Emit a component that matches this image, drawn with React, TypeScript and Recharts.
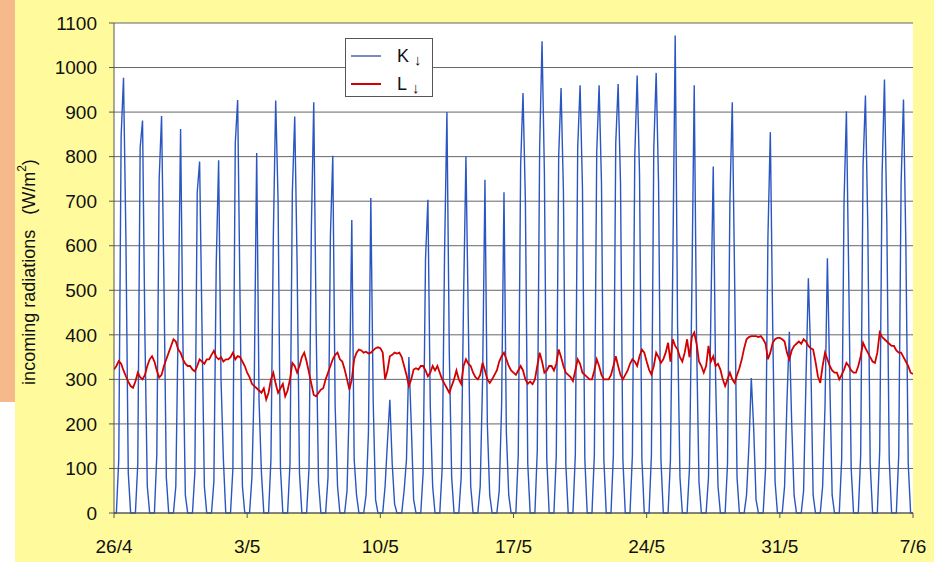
import React from "react";
import {
  LineChart,
  Line,
  XAxis,
  YAxis,
  CartesianGrid,
  Legend,
} from "recharts";

// day labels on the x axis (one tick per week)
const dateLabels = ["26/4", "3/5", "10/5", "17/5", "24/5", "31/5", "7/6"];
const dayTicks = [0, 7, 14, 21, 28, 35, 42];
const radTicks = [0, 100, 200, 300, 400, 500, 600, 700, 800, 900, 1000, 1100];

// K↓ shortwave, 3-hourly (00,03,...,21h) for each day from 26/4
const kDays = [
  [0, 0, 120, 845, 977, 620, 90, 0],
  [0, 0, 110, 820, 881, 400, 60, 0],
  [0, 0, 130, 750, 891, 520, 80, 0],
  [0, 0, 60, 430, 862, 380, 40, 0],
  [0, 0, 90, 720, 789, 420, 60, 0],
  [0, 0, 70, 560, 792, 300, 120, 0],
  [0, 0, 100, 830, 927, 480, 60, 0],
  [0, 0, 80, 300, 808, 250, 90, 0],
  [0, 0, 120, 620, 926, 700, 100, 0],
  [0, 0, 110, 720, 890, 560, 90, 0],
  [0, 0, 100, 640, 922, 420, 70, 0],
  [0, 0, 80, 620, 802, 240, 60, 0],
  [0, 0, 50, 260, 658, 120, 40, 0],
  [0, 0, 40, 180, 707, 250, 30, 0],
  [0, 0, 60, 160, 254, 110, 20, 0],
  [0, 0, 50, 120, 350, 200, 30, 0],
  [0, 0, 90, 570, 703, 240, 60, 0],
  [0, 0, 100, 580, 900, 360, 80, 0],
  [0, 0, 80, 480, 800, 430, 60, 0],
  [0, 0, 60, 300, 748, 200, 40, 0],
  [0, 0, 50, 240, 720, 180, 40, 0],
  [0, 0, 130, 780, 943, 700, 110, 0],
  [0, 0, 140, 820, 1059, 760, 120, 0],
  [0, 0, 130, 800, 954, 720, 110, 0],
  [0, 0, 130, 820, 960, 730, 120, 0],
  [0, 0, 130, 810, 960, 740, 120, 0],
  [0, 0, 130, 830, 963, 740, 120, 0],
  [0, 0, 130, 800, 982, 760, 120, 0],
  [0, 0, 130, 820, 988, 740, 120, 0],
  [0, 0, 120, 560, 1072, 420, 80, 0],
  [0, 0, 100, 500, 960, 380, 70, 0],
  [0, 0, 80, 450, 778, 300, 60, 0],
  [0, 0, 110, 700, 922, 520, 80, 0],
  [0, 0, 40, 150, 303, 190, 30, 0],
  [0, 0, 100, 620, 855, 420, 70, 0],
  [0, 0, 60, 250, 407, 200, 40, 0],
  [0, 0, 50, 300, 527, 350, 40, 0],
  [0, 0, 60, 240, 572, 300, 40, 0],
  [0, 0, 120, 700, 902, 520, 100, 0],
  [0, 0, 130, 780, 937, 640, 110, 0],
  [0, 0, 140, 760, 973, 650, 120, 0],
  [0, 0, 130, 740, 928, 600, 110, 0],
];

// L↓ longwave, same 3-hourly steps
const lDays = [
  [322, 330, 341, 335, 320, 307, 295, 285],
  [281, 295, 315, 305, 300, 310, 330, 345],
  [352, 340, 320, 304, 310, 330, 345, 360],
  [375, 390, 385, 367, 360, 345, 335, 330],
  [330, 322, 318, 330, 345, 340, 335, 345],
  [345, 355, 364, 350, 345, 350, 340, 345],
  [345, 350, 360, 345, 352, 350, 340, 330],
  [315, 305, 290, 285, 280, 275, 270, 280],
  [255, 270, 300, 315, 290, 270, 280, 290],
  [262, 275, 300, 337, 330, 315, 330, 350],
  [360, 340, 315, 290, 265, 262, 270, 277],
  [280, 300, 315, 330, 345, 355, 360, 345],
  [340, 322, 300, 277, 300, 345, 360, 367],
  [365, 360, 362, 358, 360, 365, 370, 372],
  [370, 360, 300, 320, 352, 355, 360, 358],
  [360, 350, 330, 310, 285, 300, 322, 325],
  [322, 330, 330, 320, 307, 315, 330, 320],
  [330, 315, 300, 290, 280, 270, 285, 300],
  [320, 300, 290, 330, 345, 335, 330, 315],
  [305, 300, 310, 337, 320, 300, 292, 300],
  [310, 320, 340, 352, 360, 345, 330, 320],
  [315, 310, 320, 330, 320, 300, 290, 295],
  [289, 300, 330, 360, 340, 315, 320, 330],
  [330, 320, 335, 367, 350, 330, 315, 310],
  [305, 296, 320, 345, 335, 315, 310, 305],
  [300, 300, 320, 345, 330, 310, 300, 300],
  [300, 310, 330, 352, 330, 310, 300, 310],
  [320, 335, 345, 340, 330, 352, 367, 360],
  [340, 322, 311, 330, 360, 350, 337, 345],
  [360, 382, 340, 390, 375, 367, 350, 340],
  [360, 390, 350, 395, 405, 380, 340, 330],
  [315, 330, 375, 340, 352, 330, 335, 322],
  [300, 285, 300, 315, 300, 292, 310, 325],
  [345, 370, 390, 395, 397, 397, 397, 395],
  [397, 390, 380, 345, 360, 382, 390, 393],
  [393, 390, 385, 360, 345, 365, 375, 380],
  [385, 380, 390, 385, 375, 370, 367, 340],
  [307, 292, 330, 360, 345, 330, 320, 315],
  [315, 300, 310, 322, 337, 330, 320, 315],
  [315, 330, 352, 382, 370, 360, 350, 340],
  [337, 360, 405, 395, 390, 385, 380, 375],
  [375, 365, 360, 360, 350, 340, 330, 315],
];
const kEnd = 0;
const lEnd = 312;

const FONT = '"Liberation Sans", Arial, sans-serif';
const K_COLOR = "#2a56c2";
const L_COLOR = "#d40000";

const data: { t: number; K: number; L: number }[] = [];
kDays.forEach((row, d) => {
  row.forEach((k, h) => {
    data.push({ t: d + h / row.length, K: k, L: lDays[d][h] });
  });
});
data.push({ t: kDays.length, K: kEnd, L: lEnd });

const renderLegend = (props: any) => {
  const items = props.payload || [];
  return (
    <div
      style={{
        width: 88,
        height: 59,
        boxSizing: "border-box",
        border: "1px solid #555",
        background: "#fff",
      }}
    >
      <svg width={86} height={57}>
        {items.map((item: any, i: number) => (
          <g key={item.value}>
            <line
              x1={5}
              x2={35}
              y1={17 + i * 28}
              y2={17 + i * 28}
              stroke={i === 0 ? "#1f3f8f" : item.color}
              strokeWidth={i === 0 ? 1.2 : 2}
            />
            <text
              x={51}
              y={17 + i * 28}
              dy="0.36em"
              fontFamily={FONT}
              fontSize={18}
              fill="#111"
            >
              {item.value}
              <tspan fontSize={15} dx={5} dy={3}>
                ↓
              </tspan>
            </text>
          </g>
        ))}
      </svg>
    </div>
  );
};

const YLabel = () => (
  <text
    x={30}
    y={272}
    transform="rotate(-90, 30, 272)"
    textAnchor="middle"
    dominantBaseline="middle"
    fontFamily={FONT}
    fontSize={18}
    fill="#111"
    style={{ whiteSpace: "pre" }}
  >
    {"incoming radiations   (W/m"}
    <tspan fontSize={12} dy={-7}>
      2
    </tspan>
    <tspan dy={7}>)</tspan>
  </text>
);

export default function App() {
  return (
    <div
      style={{
        position: "fixed",
        left: 0,
        top: 0,
        width: 934,
        height: 571,
        background: "#fff",
      }}
    >
      <div
        style={{
          position: "absolute",
          left: 0,
          top: 0,
          width: 15,
          height: 402,
          background: "#f6b98c",
        }}
      />
      <div
        style={{
          position: "absolute",
          left: 15,
          top: 0,
          width: 919,
          height: 562,
          background: "#fffb9c",
        }}
      />
      <div style={{ position: "absolute", left: 0, top: 0 }}>
        <LineChart
          width={934}
          height={571}
          data={data}
          margin={{ top: 23, right: 21, left: 54, bottom: 0 }}
        >
          <CartesianGrid
            vertical={false}
            stroke="#666"
            strokeWidth={1}
            fill="#ffffff"
            fillOpacity={1}
          />
          <XAxis
            dataKey="t"
            type="number"
            domain={[0, 42]}
            ticks={dayTicks}
            tickFormatter={(v: number) => dateLabels[dayTicks.indexOf(v)]}
            height={58}
            tickSize={5}
            tickMargin={22}
            stroke="#555"
            tick={{ fill: "#111", fontSize: 19, fontFamily: FONT }}
            allowDataOverflow
          />
          <YAxis
            type="number"
            domain={[0, 1100]}
            ticks={radTicks}
            width={60}
            tickSize={5}
            tickMargin={12}
            stroke="#555"
            tick={{ fill: "#111", fontSize: 19, fontFamily: FONT }}
            label={{ content: () => <YLabel /> }}
            interval={0}
          />
          <Legend
            layout="vertical"
            verticalAlign="middle"
            align="center"
            content={renderLegend}
            wrapperStyle={{ left: 345, top: 38, width: 88, height: 59 }}
          />
          <Line
            type="linear"
            dataKey="K"
            name="K"
            stroke={K_COLOR}
            strokeWidth={1.4}
            dot={false}
            isAnimationActive={false}
          />
          <Line
            type="linear"
            dataKey="L"
            name="L"
            stroke={L_COLOR}
            strokeWidth={1.8}
            dot={false}
            isAnimationActive={false}
          />
        </LineChart>
      </div>
    </div>
  );
}
